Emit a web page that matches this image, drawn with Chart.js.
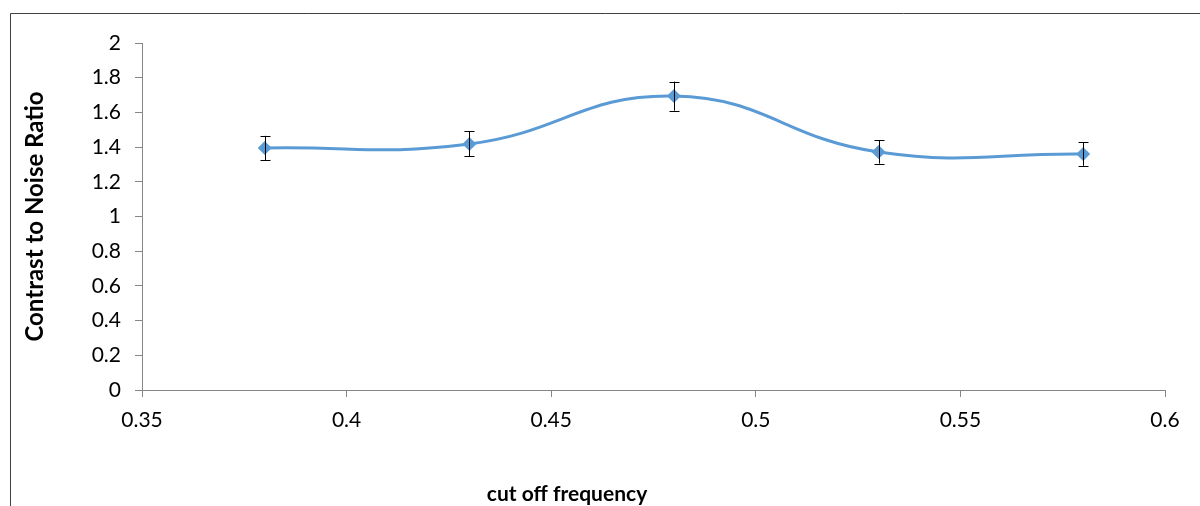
<!DOCTYPE html>
<html>
<head>
<meta charset="utf-8">
<script src="https://cdn.jsdelivr.net/npm/chart.js@4/dist/chart.umd.min.js"></script>
<style>
  html, body { margin: 0; padding: 0; background: #fff; }
  #wrap { width: 1200px; height: 506px; }
</style>
</head>
<body>
<div id="wrap"><canvas id="cnrChart" width="1200" height="506"></canvas></div>
<script>
const cutoffFreq = [0.38, 0.43, 0.48, 0.53, 0.58];
const cnrValues = [1.395, 1.418, 1.694, 1.372, 1.36];
const cnrErrors = [0.07, 0.072, 0.084, 0.067, 0.068];

const xTitle = 'cut off frequency';
const yTitle = 'Contrast to Noise Ratio';

const axisColor = '#868686';
const fontFamily = 'Lato, "Open Sans", sans-serif';

// frame around the whole chart, like the Excel chart border
const framePlugin = {
    id: 'frame',
    beforeDraw(chart) {
        const c = chart.ctx;
        c.save();
        c.strokeStyle = '#404040';
        c.lineWidth = 1;
        c.beginPath();
        c.moveTo(10.5, chart.height + 2);
        c.lineTo(10.5, 13.5);
        c.lineTo(chart.width + 2, 13.5);
        c.stroke();
        c.restore();
    },
};

// vertical error bars with caps
const errorBarPlugin = {
    id: 'errorBars',
    afterDatasetsDraw(chart) {
        const c = chart.ctx;
        const xs = chart.scales.x;
        const ys = chart.scales.y;
        c.save();
        c.strokeStyle = '#000';
        c.lineWidth = 1;
        cutoffFreq.forEach((f, i) => {
            const px = Math.round(xs.getPixelForValue(f)) + 0.5;
            const top = ys.getPixelForValue(cnrValues[i] + cnrErrors[i]);
            const bot = ys.getPixelForValue(cnrValues[i] - cnrErrors[i]);
            c.beginPath();
            c.moveTo(px, top);
            c.lineTo(px, bot);
            c.moveTo(px - 5, Math.round(top) + 0.5);
            c.lineTo(px + 5, Math.round(top) + 0.5);
            c.moveTo(px - 5, Math.round(bot) + 0.5);
            c.lineTo(px + 5, Math.round(bot) + 0.5);
            c.stroke();
        });
        c.restore();
    },
};

// x axis title sits left of the plot centre in the original
const xTitlePlugin = {
    id: 'xTitle',
    afterDraw(chart) {
        const c = chart.ctx;
        c.save();
        c.font = 'bold 21px ' + fontFamily;
        c.fillStyle = '#000';
        c.textAlign = 'center';
        c.textBaseline = 'middle';
        c.fillText(xTitle, 567, 494);
        c.restore();
    },
};

const ctx = document.getElementById('cnrChart').getContext('2d');
const cnrChart = new Chart(ctx, {
    type: 'line',
    data: {
        datasets: [{
            label: 'CNR',
            data: cutoffFreq.map((f, i) => ({ x: f, y: cnrValues[i] })),
            borderColor: '#5B9BD5',
            backgroundColor: '#5B9BD5',
            borderWidth: 3,
            tension: 0.45,
            pointStyle: 'rectRot',
            pointRadius: 7,
            pointHoverRadius: 7,
            pointBorderWidth: 0,
            fill: false,
        }],
    },
    plugins: [framePlugin, errorBarPlugin, xTitlePlugin],
    options: {
        responsive: false,
        animation: false,
        layout: { padding: { top: 43, right: 35, left: 0, bottom: 0 } },
        plugins: {
            legend: { display: false },
            tooltip: { enabled: false },
        },
        scales: {
            x: {
                type: 'linear',
                min: 0.35,
                max: 0.6,
                afterFit: (s) => { s.height = 116; },
                ticks: {
                    stepSize: 0.05,
                    color: '#000',
                    font: { family: fontFamily, size: 21 },
                    padding: 11,
                    callback: (v) => String(+v.toFixed(2)),
                },
                grid: { drawOnChartArea: false, drawTicks: true, tickLength: 7, color: axisColor },
                border: { display: true, color: axisColor, width: 1 },
            },
            y: {
                min: 0,
                max: 2,
                afterFit: (s) => { s.width = 142; },
                ticks: {
                    stepSize: 0.2,
                    color: '#000',
                    font: { family: fontFamily, size: 21 },
                    padding: 14,
                    callback: (v) => String(+v.toFixed(1)),
                },
                grid: { drawOnChartArea: false, drawTicks: true, tickLength: 7, color: axisColor },
                border: { display: true, color: axisColor, width: 1 },
                title: {
                    display: true,
                    text: yTitle,
                    color: '#000',
                    font: { family: fontFamily, size: 24, weight: 'bold' },
                    padding: { top: 21, bottom: 0 },
                },
            },
        },
    },
});
</script>
</body>
</html>
